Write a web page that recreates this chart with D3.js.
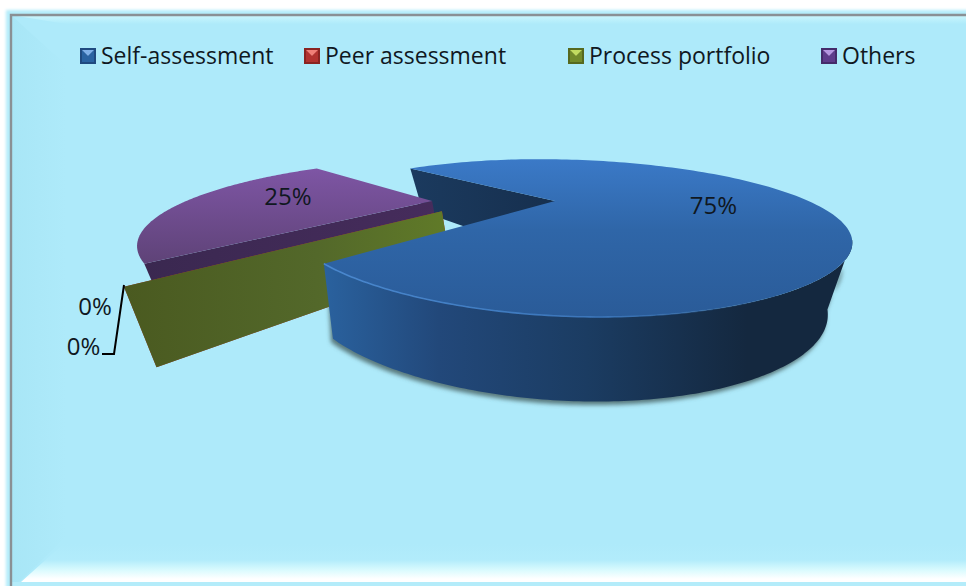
<!DOCTYPE html>
<html><head><meta charset="utf-8">
<script src="https://cdn.jsdelivr.net/npm/d3@7/dist/d3.min.js"></script>
<style>html,body{margin:0;padding:0;background:#fff;overflow:hidden}svg{display:block}text{font-family:"Open Sans","Noto Sans",sans-serif;fill:#10181f}</style>
</head><body><svg id="c" width="966" height="586"></svg>
<script>
const categories = ["Self-assessment","Peer assessment","Process portfolio","Others"];
const shareValues = [75,0,0,25];
const labelTexts = ["75%","0%","0%","25%"];
const W=966,H=586;
const svg=d3.select("#c");
const defs=svg.append("defs");
function lin(id,x1,y1,x2,y2,stops){
  const g=defs.append("linearGradient").attr("id",id).attr("gradientUnits","userSpaceOnUse")
    .attr("x1",x1).attr("y1",y1).attr("x2",x2).attr("y2",y2);
  stops.forEach(s=>g.append("stop").attr("offset",s[0]).attr("stop-color",s[1]).attr("stop-opacity",s[2]===undefined?1:s[2]));
  return `url(#${id})`;
}
defs.append("filter").attr("id","blur6").attr("x","-20%").attr("y","-20%").attr("width","140%").attr("height","140%").append("feGaussianBlur").attr("stdDeviation",2.2);
defs.append("filter").attr("id","soft").append("feGaussianBlur").attr("stdDeviation",0.5);
defs.append("filter").attr("id","soft2").attr("x","-10%").attr("y","-10%").attr("width","120%").attr("height","120%").append("feGaussianBlur").attr("stdDeviation",1.6);

// frame
const L=11,T=15,B=582;
svg.append("rect").attr("width",W).attr("height",H).attr("fill","#ffffff");
svg.append("rect").attr("x",L-5).attr("y",T-5).attr("width",W).attr("height",H).attr("fill","#b4ecfa").attr("filter","url(#soft2)");
svg.append("rect").attr("x",L).attr("y",T).attr("width",W).attr("height",B-T).attr("fill","#aeeafa");
svg.append("path").attr("d",`M${L},${T}H${W}V${T+9}H${L+55}L${L},${T}Z`).attr("fill",lin("bt",0,T,0,T+9,[[0,"#ccf7fd"],[1,"#aeeafa"]]));
svg.append("path").attr("d",`M${L},${T}L${L+55},${T+50}V${B-45}L${L+8},${B}H${L}Z`).attr("fill",lin("bl",L,0,L+55,0,[[0,"#a8e6f6"],[1,"#aeeafa"]]));
svg.append("path").attr("d",`M${L+10},${B}L${L+52},${B-38}H${W}V${B}Z`).attr("fill",lin("bb",0,B-38,0,B,[[0,"#aeeafa"],[0.42,"#b2ecfb"],[0.7,"#dcfbfe"],[0.92,"#ffffff"],[1,"#ffffff"]]));
svg.append("path").attr("d",`M${L},${B+4}V${T}H${W}`).attr("fill","none").attr("stroke","#8a9094").attr("stroke-width",2.4);

// projection of the tilted disc
const cx=555,cy=201,R=264,leftSquash=0.97,skew=-24,tilt=62.9,persp=0.4625,depth=45.7,shrink=0.07,shrinkLeft=0.035;
const project=(u,v,z,sh=shrink)=>{
  const d=1+persp*v, ru=R*u*(u<0?leftSquash:1);
  return [cx+(ru+skew*v)*(1-sh*z)/d, cy-tilt*v/d+z*depth/d];
};
const radAt=a=>0.96+0.035*Math.pow(Math.max(0,-Math.cos(a)),6);
const rim=(a,z,off=[0,0],r=radAt(a),sh=shrink)=>project(off[0]+r*Math.sin(a),off[1]+r*Math.cos(a),z,sh);
const line=d3.line();
const startAngle=-Math.PI/4;
const arcs=d3.pie().sort(null).startAngle(startAngle).endAngle(startAngle+2*Math.PI).value(d=>d)(shareValues);
const explode=[[0,0],[-0.425,-0.15],[-0.425,-0.15],[-0.48,0]];
const N=160;
const sweep=(a0,a1,z,off)=>d3.range(0,N+1).map(i=>rim(a0+(a1-a0)*i/N,z,off));
// the lower edge of the wall runs a little deeper towards the sides
const lowerSweep=(a0,a1)=>d3.range(0,N+1).map(i=>{
  const a=a0+(a1-a0)*i/N;
  return rim(a,1+0.25*Math.pow(Math.sin(a),2),[0,0],radAt(a),Math.sin(a)<0?shrinkLeft:shrink);
});

const blue=arcs[0], others=arcs[3];
const visibleFrom=Math.PI*2/3;
// soft shadow below the main slice
const gShadow=svg.append("g").attr("filter","url(#blur6)");
gShadow.append("path").attr("d",line([...lowerSweep(visibleFrom,blue.endAngle),...sweep(blue.endAngle,visibleFrom,0.4,[0,0])].map(p=>[p[0]-2,p[1]+3.5]))+"Z").attr("fill","#4a6668").attr("fill-opacity",.85);

// inner wall of the main slice, seen through the gap
const notch=[rim(blue.startAngle,0),project(0,0,0),project(0,0,1.25),rim(blue.startAngle,1.25)];
svg.append("path").attr("d",line(notch)+"Z").attr("fill",lin("nw",414,0,555,0,[[0,"#1b3a5e"],[1,"#162f4e"]]));

// Others
const oOff=explode[3];
const oWall=[project(oOff[0],oOff[1],0),rim(others.startAngle,0,oOff),rim(others.startAngle,1,oOff),project(oOff[0],oOff[1],1)];
svg.append("path").attr("d",line(oWall)+"Z").attr("fill",lin("ow",140,0,440,0,[[0,"#3a2850"],[1,"#462c5c"]]));
const oTop=[project(oOff[0],oOff[1],0),...sweep(others.startAngle,others.endAngle,0,oOff)];
svg.append("path").attr("d",line(oTop)+"Z").attr("fill",lin("ot",0,165,0,262,[[0,"#7f56a6"],[1,"#5f4378"]]));

// zero slices: only their wall remains
[arcs[1],arcs[2]].forEach((s,i)=>{
  const off=explode[i+1], a=s.startAngle, r=0.97;
  const wall=[project(off[0],off[1],0),rim(a,0,off,r),rim(a,1.08,off,r),project(off[0],off[1],1.08)];
  svg.append("path").attr("d",line(wall)+"Z")
    .attr("fill",i===0?"#b03030":lin("gw",125,0,445,0,[[0,"#4a5a20"],[0.6,"#53682a"],[1,"#607a28"]]));
});

// outer side of the main slice
const sideFill=lin("bs",322,0,853,0,[[0,"#2a629f"],[0.22,"#22487a"],[0.5,"#1b3c62"],[0.8,"#14283f"],[1,"#14283f"]]);
svg.append("path").attr("d",line([...sweep(visibleFrom,blue.endAngle,0,[0,0]),...lowerSweep(blue.endAngle,visibleFrom)])+"Z").attr("fill",sideFill);
// top of the main slice
const bTopPts=[project(0,0,0),...sweep(blue.startAngle,blue.endAngle,0,[0,0])];
svg.append("path").attr("d",line(bTopPts)+"Z").attr("fill",lin("bt2",0,158,0,318,[[0,"#3b7ac8"],[0.45,"#2f66a8"],[1,"#2a5b98"]]));
// lit rim
svg.append("path").attr("d",line(sweep(Math.PI*0.6,blue.endAngle,0,[0,0])))
  .attr("fill","none").attr("stroke",lin("br",322,0,800,0,[[0,"#4a88cf"],[0.6,"#3a74b8"],[1,"#2a5b98",0]])).attr("stroke-width",1.6).attr("filter","url(#soft)");

// leader line
const leaderPts=[[124,285],[114,354],[102,354]];
svg.append("path").attr("d",line(leaderPts)).attr("fill","none").attr("stroke","#000").attr("stroke-width",2);

// labels
const labelPos=[[713.5,206],[83.5,347],[95,307],[288,197]];
svg.selectAll("text.lab").data(labelTexts).join("text").attr("class","lab")
  .attr("x",(d,i)=>labelPos[i][0]).attr("y",(d,i)=>labelPos[i][1]).attr("dy","0.35em")
  .attr("text-anchor","middle").attr("font-size",24).text(d=>d);

// legend
const swatch=[["#2f6db0","#1f4a80","#7fb0e8"],["#c23a36","#8a2422","#f08078"],["#7f9a30","#56691f","#c2dc60"],["#6a449a","#452b6a","#b596e0"]];
const legX=[80,304,568,821];
const legend=svg.selectAll("g.leg").data(categories).join("g").attr("class","leg").attr("transform",(d,i)=>`translate(${legX[i]},48)`);
legend.append("rect").attr("width",16).attr("height",16).attr("fill",(d,i)=>swatch[i][1]);
legend.append("path").attr("d","M2,2L8,8L14,2V14H2Z").attr("fill",(d,i)=>swatch[i][0]).attr("fill-opacity",.7);
legend.append("path").attr("d","M2,2H14L8,8Z").attr("fill",(d,i)=>swatch[i][2]);
legend.append("text").attr("x",21).attr("y",16).attr("font-size",23).text(d=>d);
</script></body></html>
